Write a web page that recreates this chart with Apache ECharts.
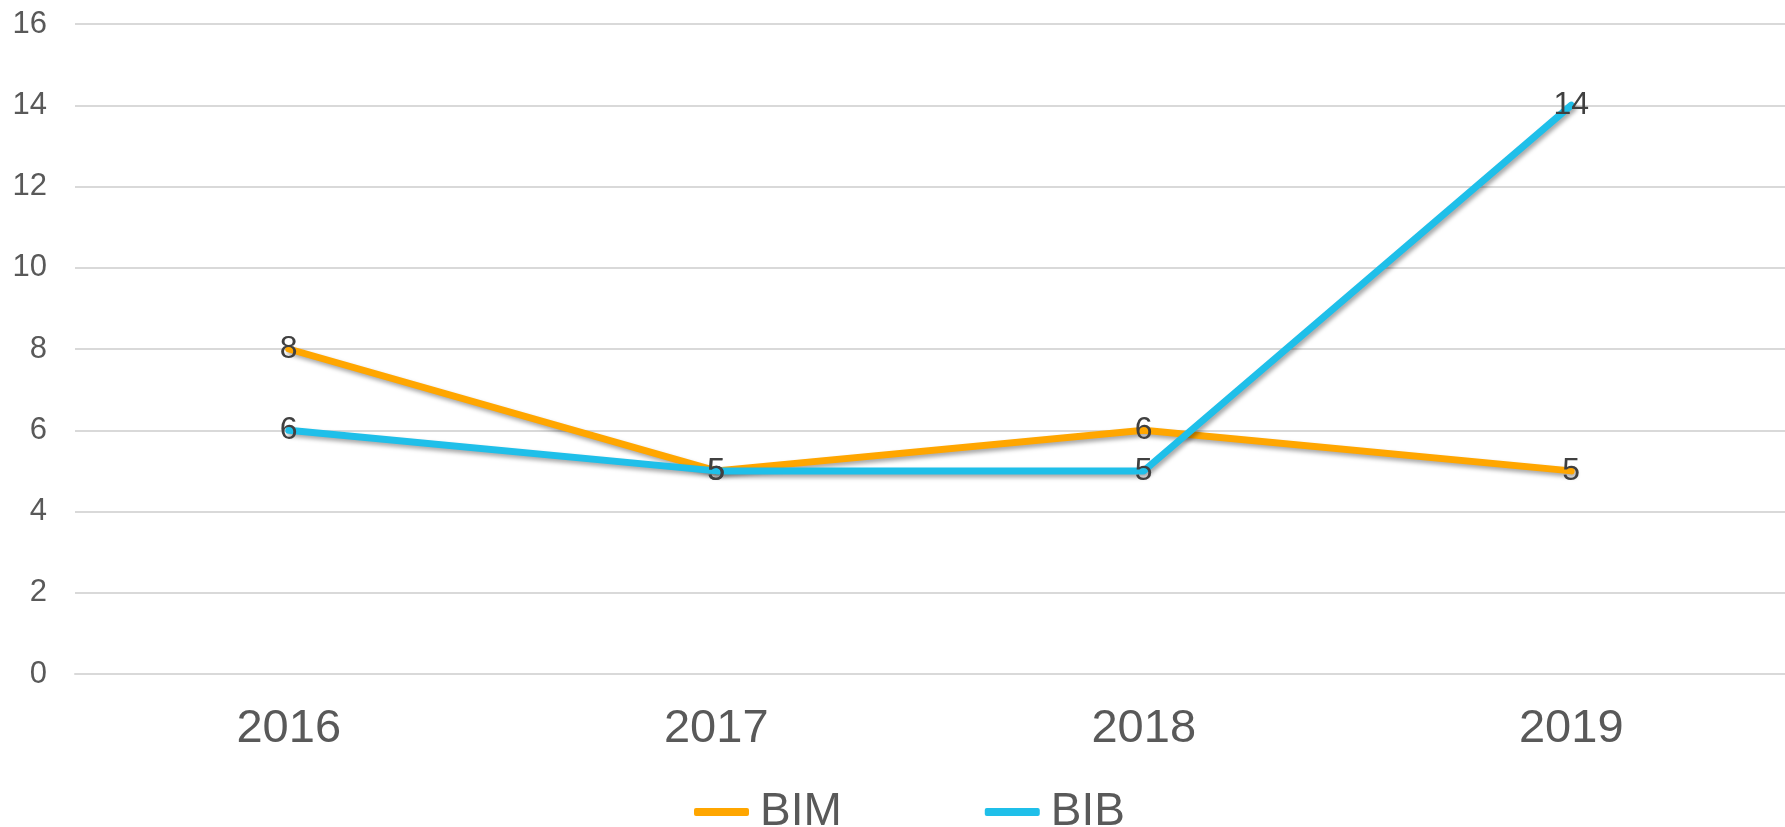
<!DOCTYPE html>
<html>
<head>
<meta charset="utf-8">
<script src="https://cdn.jsdelivr.net/npm/echarts@6/dist/echarts.min.js"></script>
<style>
html,body{margin:0;padding:0;background:#fff;}
#main{width:1785px;height:827px;}
</style>
</head>
<body>
<div id="main"></div>
<script>
const categories = ['2016', '2017', '2018', '2019'];
const bimValues = [8, 5, 6, 5];
const bibValues = [6, 5, 5, 14];
const seriesNames = ['BIM', 'BIB'];
const seriesColors = ['#FFA600', '#1FBFE9'];

const chart = echarts.init(document.getElementById('main'), null, {renderer: 'canvas'});
const font = '"Liberation Sans", Arial, sans-serif';
const lineShadow = {shadowColor: 'rgba(0,0,0,0.35)', shadowBlur: 4, shadowOffsetX: 2, shadowOffsetY: 3};
function mkSeries(name, data, color) {
  return {
    name: name,
    type: 'line',
    data: data,
    symbol: 'circle',
    symbolSize: 1,
    showSymbol: true,
    itemStyle: {color: color, opacity: 0},
    lineStyle: Object.assign({color: color, width: 7, cap: 'round', join: 'round'}, lineShadow),
    label: {
      show: true,
      position: 'inside',
      color: '#404040',
      fontSize: 32,
      fontFamily: font,
      opacity: 1
    },
    emphasis: {disabled: true},
    animation: false
  };
}
chart.setOption({
  animation: false,
  grid: {left: 75, right: -10, top: 24, bottom: 153, containLabel: false},
  legend: {
    data: seriesNames.map((n, i) => ({name: n, itemStyle: {opacity: 1, color: seriesColors[i]}})),
    left: 689,
    top: 784,
    icon: 'roundRect',
    itemWidth: 55,
    itemHeight: 8,
    itemGap: 143,
    itemStyle: {opacity: 1},
    lineStyle: {opacity: 0},
    textStyle: {fontSize: 46, color: '#595959', fontFamily: font, padding: [0, 0, 0, 6]}
  },
  xAxis: {
    type: 'category',
    data: categories,
    boundaryGap: true,
    axisLine: {show: true, lineStyle: {color: '#D9D9D9', width: 2}},
    axisTick: {show: false},
    axisLabel: {fontSize: 47, color: '#595959', fontFamily: font, margin: 32}
  },
  yAxis: {
    type: 'value',
    min: 0,
    max: 16,
    interval: 2,
    axisLine: {show: false},
    axisTick: {show: false},
    splitLine: {lineStyle: {color: '#D9D9D9', width: 2}},
    axisLabel: {fontSize: 31, color: '#595959', fontFamily: font, margin: 28}
  },
  series: [
    mkSeries(seriesNames[0], bimValues, seriesColors[0]),
    mkSeries(seriesNames[1], bibValues, seriesColors[1])
  ]
});
</script>
</body>
</html>
